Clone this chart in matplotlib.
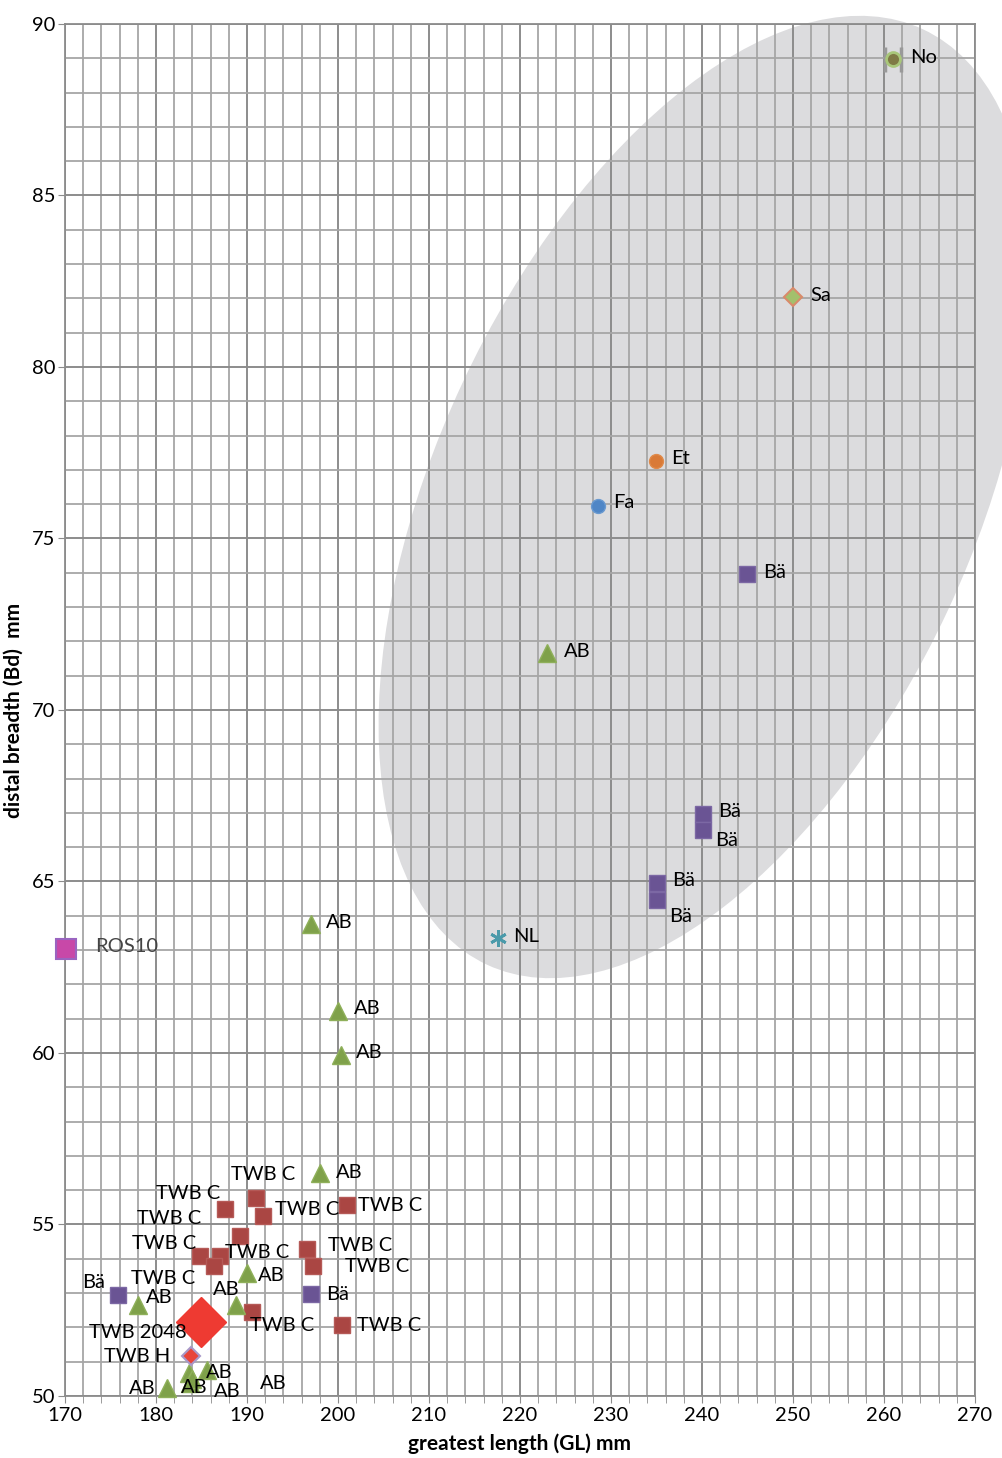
import matplotlib.pyplot as plt
from matplotlib.patches import Ellipse
from matplotlib.ticker import MultipleLocator

plt.rcParams['font.family'] = ['Lato', 'DejaVu Sans']

# data (GL mm, Bd mm)
twb_c_x = [190.95, 187.6, 191.8, 201.0, 189.2, 184.8, 187.0, 186.4, 196.6, 197.3, 190.5, 200.4]
twb_c_y = [55.78, 55.44, 55.25, 55.57, 54.66, 54.08, 54.08, 53.79, 54.28, 53.79, 52.46, 52.07]

ab_x = [223.0, 197.0, 200.0, 200.3, 198.0, 178.05, 190.0, 188.8, 185.6, 183.6, 183.7, 181.2, 184.0]
ab_y = [71.66, 63.76, 61.22, 59.95, 56.5, 52.65, 53.6, 52.65, 50.76, 50.66, 50.37, 50.22, 50.5]

ba_x = [244.9, 240.1, 240.1, 235.05, 235.05, 175.86, 197.0]
ba_y = [73.97, 66.97, 66.5, 64.96, 64.46, 52.94, 52.97]

no_x, no_y = [261.0], [88.98]
sa_x, sa_y = [250.0], [82.04]
et_x, et_y = [234.9], [77.26]
fa_x, fa_y = [228.6], [75.95]
nl_x, nl_y = [217.6], [63.35]
ros_x, ros_y = [170.1], [63.03]
twb2048_x, twb2048_y = [184.9], [52.17]
twbh_x, twbh_y = [183.9], [51.17]

# label offsets in pixels (dx, dy screen, y down), label centre
twb_c_off = [(7, -23), (-37, -16), (44, -6), (43, 1), (17, 16), (-36, -13), (-51, -38), (-51, 12),
             (53, -4), (64, 0), (31, 14), (47, 1)]
ab_off = [(30, -2), (29, -2), (29, -3), (29, -2), (29, -1), (21, -8), (24, 3), (-10, -16),
          (12, 3), (5, 14), (38, 8), (-25, 0), (81, 5)]
ba_off = [(28, -1), (27, -2), (24, 10), (27, -2), (24, 16), (-25, -13), (27, 0)]

fig = plt.figure(figsize=(10.02, 14.58), dpi=100)
ax = fig.add_axes([65 / 1002, 62 / 1458, 910 / 1002, 1372 / 1458])
ax.set_facecolor('none')

# grey ellipse behind the grid (figure inches)
ell = Ellipse((7.05, 9.61), 10.32, 5.36, angle=65, transform=fig.dpi_scale_trans,
              facecolor='#dcdcde', edgecolor='none', zorder=-5)
fig.patches.append(ell)

ax.set_xlim(170, 270)
ax.set_ylim(50, 90)
ax.xaxis.set_major_locator(MultipleLocator(10))
ax.xaxis.set_minor_locator(MultipleLocator(2))
ax.yaxis.set_major_locator(MultipleLocator(5))
ax.yaxis.set_minor_locator(MultipleLocator(1))
ax.grid(which='minor', color='#a6a6a6', lw=1.3)
ax.grid(which='major', color='#8c8c8c', lw=1.4)
ax.set_axisbelow(True)
for s in ax.spines.values():
    s.set_color('#8c8c8c')
    s.set_linewidth(1.3)
ax.tick_params(which='both', colors='#8c8c8c', labelcolor='black', labelsize=14.5)
ax.tick_params(axis='x', which='major', length=5, pad=3)
ax.tick_params(axis='x', which='minor', length=5)
ax.tick_params(axis='y', which='major', length=5, pad=2)
ax.tick_params(axis='y', which='minor', length=0)

ax.set_xlabel('greatest length (GL) mm', fontsize=15, fontweight='bold', labelpad=7)
ax.set_ylabel('distal breadth (Bd)  mm', fontsize=15, fontweight='bold', labelpad=6)

kw = dict(ls='none', clip_on=False, zorder=5)
ax.plot(twb_c_x, twb_c_y, marker='s', ms=11, mfc='#aa4643', mec='#b55a57', **kw)
ax.plot(ab_x, ab_y, marker='^', ms=13, mfc='#7fa14a', mec='#8fb05a', **kw)
ax.plot(ba_x, ba_y, marker='s', ms=11, mfc='#6a5494', mec='#7c68a4', **kw)
ax.errorbar(no_x, no_y, xerr=0.9, fmt='none', ecolor='#999999', elinewidth=0, capsize=9, capthick=2.5, zorder=4)
ax.plot(no_x, no_y, marker='o', ms=10, mfc='#7f7a45', mec='#a9c77a', mew=2, **kw)
ax.plot(sa_x, sa_y, marker='D', ms=9, mfc='#a3c06c', mec='#d98a6a', mew=1.5, **kw)
ax.plot(et_x, et_y, marker='o', ms=10, mfc='#d97a37', mec='#e08a4a', **kw)
ax.plot(fa_x, fa_y, marker='o', ms=10, mfc='#4f86c6', mec='#6a9ad0', **kw)
ax.plot(nl_x, nl_y, marker=(6, 2, 0), ms=12, mec='#4b9aaa', mew=2, **kw)
ax.plot(ros_x, ros_y, marker='s', ms=15, mfc='#c848a8', mec='#9a64c0', mew=1.5, **kw)
ax.plot(twb2048_x, twb2048_y, marker='D', ms=25, mfc='#ee3a32', mec='#ee3a32', **kw)
ax.plot(twbh_x, twbh_y, marker='D', ms=9, mfc='#e8453a', mec='#a898c8', mew=1.5, **kw)

px = 72 / 100.0
fs = 14.5


def lab(xs, ys, text, offs, ha='center'):
    for x, y, (dx, dy) in zip(xs, ys, offs):
        ax.annotate(text, (x, y), xytext=(dx * px, -dy * px), textcoords='offset points',
                    ha=ha, va='center', fontsize=fs, annotation_clip=False, zorder=6)


lab(twb_c_x, twb_c_y, 'TWB C', twb_c_off)
lab(ab_x, ab_y, 'AB', ab_off)
lab(ba_x, ba_y, 'Bä', ba_off)
lab(no_x, no_y, 'No', [(30, -1)])
lab(sa_x, sa_y, 'Sa', [(28, -2)])
lab(et_x, et_y, 'Et', [(25, -2)])
lab(fa_x, fa_y, 'Fa', [(25, -3)])
lab(nl_x, nl_y, 'NL', [(28, -2)])
lab(twb2048_x, twb2048_y, 'TWB 2048', [(-63, 11)])
lab(twbh_x, twbh_y, 'TWB H', [(-54, 1)])
ax.annotate('ROS10', (ros_x[0], ros_y[0]), xytext=(29 * px, 3 * px), textcoords='offset points',
            ha='left', va='center', fontsize=fs, color='#444444', annotation_clip=False, zorder=6)

fig.savefig('out.png', dpi=100)
